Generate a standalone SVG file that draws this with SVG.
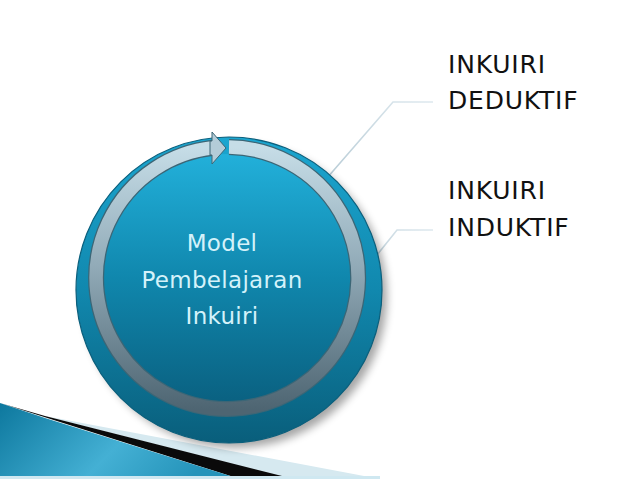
<svg xmlns="http://www.w3.org/2000/svg" width="638" height="479" viewBox="0 0 638 479">
<defs>
<linearGradient id="disc" x1="0" y1="0" x2="0" y2="1">
<stop offset="0" stop-color="#1ba6d0"/>
<stop offset="0.5" stop-color="#1188ae"/>
<stop offset="1" stop-color="#095e7b"/>
</linearGradient>
<linearGradient id="inner" x1="0" y1="0" x2="0" y2="1">
<stop offset="0" stop-color="#22b0da"/>
<stop offset="0.5" stop-color="#1087ad"/>
<stop offset="1" stop-color="#0a6181"/>
</linearGradient>
<linearGradient id="ring" x1="0" y1="0" x2="0" y2="1">
<stop offset="0" stop-color="#c6dde7"/>
<stop offset="0.45" stop-color="#92abb8"/>
<stop offset="1" stop-color="#4e6572"/>
</linearGradient>
<linearGradient id="conn" x1="0" y1="1" x2="1" y2="0">
<stop offset="0" stop-color="#b8ccd6"/>
<stop offset="1" stop-color="#dde8ee"/>
</linearGradient>
<linearGradient id="band" x1="0" y1="0" x2="1" y2="0.3">
<stop offset="0" stop-color="#0d789e"/>
<stop offset="0.6" stop-color="#44b0d4"/>
<stop offset="1" stop-color="#2594ba"/>
</linearGradient>
<filter id="shadow" x="-20%" y="-20%" width="140%" height="140%">
<feGaussianBlur stdDeviation="4"/>
</filter>
<style>
.lbl{font-family:"DejaVu Sans","Liberation Sans",sans-serif;font-size:25px;fill:#111;letter-spacing:0.8px}
.ctr{font-family:"DejaVu Sans","Liberation Sans",sans-serif;font-size:23px;fill:#d4f2fa;text-anchor:middle;letter-spacing:0.3px}
.cn{fill:none;stroke:url(#conn);stroke-width:1.6}
</style>
</defs>
<rect width="638" height="479" fill="#ffffff"/>
<g id="decor">
<polygon points="45,416 380,479 290,479" fill="#d6e9f0"/>
<polygon points="45,416 294,479 240,479 0,403" fill="#0a0a0a"/>
<polygon points="0,403 45,418 240,479 0,479" fill="url(#band)"/>
<rect x="0" y="476" width="380" height="3" fill="#cfe8f1"/>
</g>
<g id="connectors">
<polyline class="cn" points="327,178 393,102 433,102"/>
<polyline class="cn" points="365,270 397,230 433,230"/>
</g>
<g id="center">
<circle cx="235" cy="296" r="152" fill="#000" opacity="0.35" filter="url(#shadow)"/>
<circle cx="229" cy="290" r="153" fill="url(#disc)" stroke="#0b5f7c" stroke-width="1.2"/>
<circle cx="227" cy="278" r="124" fill="url(#inner)"/>
<path d="M229,147 A131,131 0 1 1 213,147.75" fill="none" stroke="#3c6676" stroke-width="16"/>
<path d="M229,147 A131,131 0 1 1 213,147.75" fill="none" stroke="url(#ring)" stroke-width="13.5"/>
<polygon points="212,132 226,148 212,164 212,155 210,155 210,141 212,141" fill="#b3ccd8" stroke="#3c6676" stroke-width="1"/>
<text class="ctr" x="222" y="251">Model</text>
<text class="ctr" x="222" y="288">Pembelajaran</text>
<text class="ctr" x="222" y="324">Inkuiri</text>
</g>
<g id="deduktif">
<text class="lbl" x="448" y="73">INKUIRI</text>
<text class="lbl" x="448" y="109">DEDUKTIF</text>
</g>
<g id="induktif">
<text class="lbl" x="448" y="199">INKUIRI</text>
<text class="lbl" x="448" y="236">INDUKTIF</text>
</g>
</svg>
